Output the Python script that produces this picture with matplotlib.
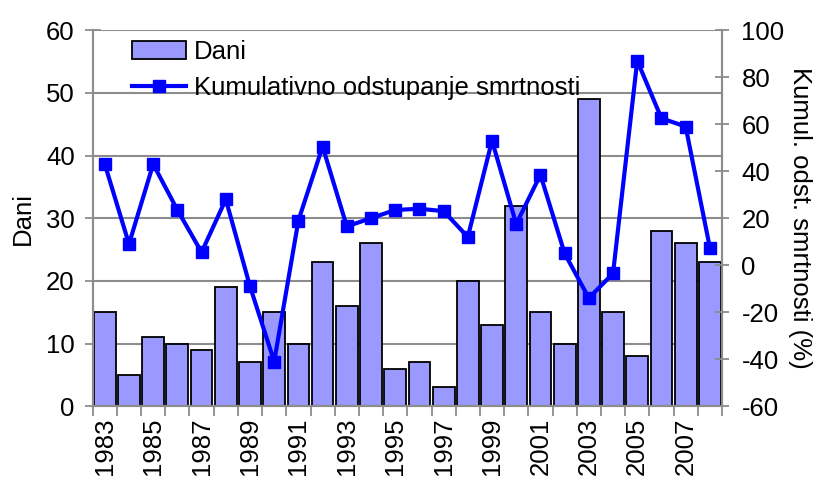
import matplotlib
matplotlib.use("Agg")
import matplotlib.pyplot as plt
from matplotlib.ticker import FixedLocator, MultipleLocator

plt.rcParams['font.family'] = ['Liberation Sans', 'DejaVu Sans']
plt.rcParams['axes.unicode_minus'] = False

years = list(range(1983, 2009))
dani = [15, 5, 11, 10, 9, 19, 7, 15, 10, 23, 16, 26, 6, 7, 3, 20, 13, 32, 15, 10, 49, 15, 8, 28, 26, 23]
kumul = [43, 9, 43, 23.5, 5.5, 28, -9, -41, 19, 50.5, 16.5, 20, 23.5, 24, 23, 12, 53, 17.5, 38.5, 5, -14, -3.5, 87, 62.5, 59, 7.5]

FS = 18.5
grid_c = '#8c8c8c'
fig = plt.figure(figsize=(8.13, 4.79), dpi=100)
ax = fig.add_axes([0.114, 0.152, 0.774, 0.785])
x = list(range(len(years)))

ax.set_axisbelow(True)
ax.yaxis.grid(True, color=grid_c, linewidth=1.5)
bars = ax.bar(x, dani, width=0.9, color='#9999ff', edgecolor='black', linewidth=1.3, label='Dani', zorder=2)
ax.set_xlim(-0.5, len(years) - 0.5)
ax.set_ylim(0, 60)
ax.yaxis.set_major_locator(MultipleLocator(10))

ax2 = ax.twinx()
line, = ax2.plot(x, kumul, color='#0000ff', linewidth=3.0, marker='s', markersize=8.5,
                 label='Kumulativno odstupanje smrtnosti', zorder=3)
ax2.set_ylim(-60, 100)
ax2.yaxis.set_major_locator(MultipleLocator(20))

# x ticks: labels on odd years, tick marks at category boundaries
lab_pos = [i for i, y in enumerate(years) if y % 2 == 1]
ax.xaxis.set_major_locator(FixedLocator(lab_pos))
ax.set_xticklabels([str(years[i]) for i in lab_pos], rotation=90, fontsize=FS)
ax.xaxis.set_minor_locator(FixedLocator([i - 0.5 for i in range(len(years) + 1)]))
ax.tick_params(axis='x', which='major', length=0, pad=8)
ax.tick_params(axis='x', which='minor', length=7, width=1.3, color=grid_c, direction='out')

ax.tick_params(axis='y', labelsize=FS, length=12, width=1.3, color=grid_c, direction='inout', pad=7)
ax2.tick_params(axis='y', labelsize=FS, length=10, width=1.3, color=grid_c, direction='inout', pad=9)

for a in (ax, ax2):
    for s in a.spines.values():
        s.set_color(grid_c)
        s.set_linewidth(1.5)
    a.spines['top'].set_visible(False)

ax.set_ylabel('Dani', fontsize=FS, labelpad=8)
ax2.set_ylabel('Kumul. odst. smrtnosti (%)', fontsize=FS, rotation=-90, labelpad=20)

leg = ax2.legend([bars, line], ['Dani', 'Kumulativno odstupanje smrtnosti'],
                 loc='upper left', bbox_to_anchor=(0.046, 1.0), frameon=False,
                 fontsize=FS, handlelength=2.1, labelspacing=0.45, handletextpad=0.3,
                 borderaxespad=0.0)

fig.savefig('out.png', dpi=100)
